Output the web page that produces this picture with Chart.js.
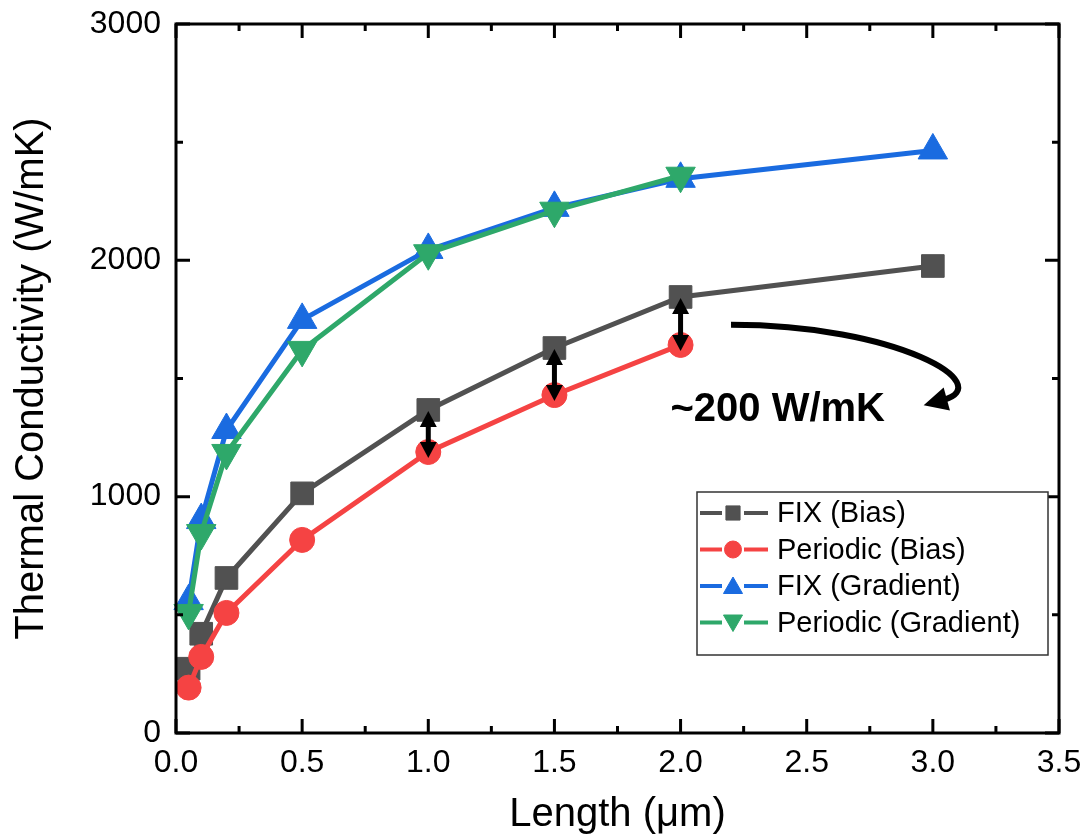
<!DOCTYPE html>
<html>
<head>
<meta charset="utf-8">
<script src="https://cdn.jsdelivr.net/npm/chart.js@4.4.1/dist/chart.umd.min.js"></script>
<style>
  body { margin: 0; background: #fff; }
  canvas { display: block; }
</style>
</head>
<body>
<canvas id="grafico" width="1087" height="839"></canvas>
<script>
// Datos (Length en um, conductividad en W/mK)
const xFixBias = [0.05, 0.1, 0.2, 0.5, 1.0, 1.5, 2.0, 3.0];
const fixBias = [272, 420, 656, 1014, 1367, 1629, 1845, 1976];
const xPerBias = [0.05, 0.1, 0.2, 0.5, 1.0, 1.5, 2.0];
const perBias = [192, 322, 508, 817, 1189, 1430, 1642];
const xFixGrad = [0.05, 0.1, 0.2, 0.5, 1.0, 1.5, 2.0, 3.0];
const fixGrad = [558, 901, 1282, 1748, 2044, 2222, 2345, 2465];
const xPerGrad = [0.05, 0.1, 0.2, 0.5, 1.0, 1.5, 2.0];
const perGrad = [508, 846, 1185, 1621, 2030, 2210, 2358];

const seriesNames = ['FIX (Bias)', 'Periodic (Bias)', 'FIX (Gradient)', 'Periodic (Gradient)'];
const xTicksLabeled = [0, 0.5, 1.0, 1.5, 2.0, 2.5, 3.0, 3.5];
const yTicksLabeled = [0, 1000, 2000, 3000];
const arrowLengths = [1.0, 1.5, 2.0];

const FUENTE = 'Arial, "Liberation Sans", sans-serif';

function puntos(xs, ys) {
    return xs.map((x, i) => ({ x: x, y: ys[i] }));
}

// Marco con ticks hacia adentro (estilo Origin)
const marcoPlugin = {
    id: 'marco',
    afterDraw(chart) {
        const ctx = chart.ctx;
        const a = chart.chartArea;
        const sx = chart.scales.x;
        const sy = chart.scales.y;
        ctx.save();
        ctx.strokeStyle = '#000';
        ctx.lineWidth = 3;
        ctx.strokeRect(a.left, a.top, a.right - a.left, a.bottom - a.top);
        sx.ticks.forEach(t => {
            const px = sx.getPixelForValue(t.value);
            const mayor = xTicksLabeled.some(v => Math.abs(v - t.value) < 1e-6);
            const len = mayor ? 14 : 7;
            ctx.beginPath();
            ctx.moveTo(px, a.bottom); ctx.lineTo(px, a.bottom - len);
            ctx.moveTo(px, a.top); ctx.lineTo(px, a.top + len);
            ctx.stroke();
        });
        sy.ticks.forEach(t => {
            const py = sy.getPixelForValue(t.value);
            const mayor = yTicksLabeled.includes(t.value);
            const len = mayor ? 14 : 7;
            ctx.beginPath();
            ctx.moveTo(a.left, py); ctx.lineTo(a.left + len, py);
            ctx.moveTo(a.right, py); ctx.lineTo(a.right - len, py);
            ctx.stroke();
        });
        ctx.restore();
    }
};

function punta(ctx, x, y, dx, dy, largo, ancho) {
    const n = Math.hypot(dx, dy);
    const ux = dx / n, uy = dy / n;
    ctx.beginPath();
    ctx.moveTo(x, y);
    ctx.lineTo(x - ux * largo - uy * ancho / 2, y - uy * largo + ux * ancho / 2);
    ctx.lineTo(x - ux * largo + uy * ancho / 2, y - uy * largo - ux * ancho / 2);
    ctx.closePath();
    ctx.fill();
}

// Flechas y texto de anotacion
const anotacionPlugin = {
    id: 'anotacion',
    afterDatasetsDraw(chart) {
        const ctx = chart.ctx;
        const sx = chart.scales.x;
        const sy = chart.scales.y;
        ctx.save();
        ctx.fillStyle = '#000';
        ctx.strokeStyle = '#000';

        // flechas dobles entre FIX (Bias) y Periodic (Bias)
        arrowLengths.forEach(xv => {
            const i = xFixBias.indexOf(xv);
            const j = xPerBias.indexOf(xv);
            const px = sx.getPixelForValue(xv);
            const y1 = sy.getPixelForValue(fixBias[i]) + 1;
            const y2 = sy.getPixelForValue(perBias[j]) + 6;
            ctx.lineWidth = 5;
            ctx.beginPath();
            ctx.moveTo(px, y1 + 12); ctx.lineTo(px, y2 - 12);
            ctx.stroke();
            punta(ctx, px, y1, 0, -1, 16, 17);
            punta(ctx, px, y2, 0, 1, 16, 17);
        });

        // flecha curva
        const p0 = [sx.getPixelForValue(2.2), sy.getPixelForValue(1727)];
        const c1 = [sx.getPixelForValue(2.86), sy.getPixelForValue(1727)];
        const c2 = [sx.getPixelForValue(3.26), sy.getPixelForValue(1473)];
        const p1 = [sx.getPixelForValue(3.04), sy.getPixelForValue(1409)];
        ctx.lineWidth = 6;
        ctx.lineCap = 'butt';
        ctx.beginPath();
        ctx.moveTo(p0[0], p0[1]);
        ctx.bezierCurveTo(c1[0], c1[1], c2[0], c2[1], p1[0], p1[1]);
        ctx.stroke();
        const dx = p1[0] - c2[0], dy = p1[1] - c2[1];
        const n = Math.hypot(dx, dy);
        punta(ctx, p1[0] + dx / n * 20, p1[1] + dy / n * 20, dx, dy, 24, 24);

        ctx.font = 'bold 40px ' + FUENTE;
        ctx.textAlign = 'left';
        ctx.textBaseline = 'middle';
        ctx.fillText('~200 W/mK', sx.getPixelForValue(1.96), sy.getPixelForValue(1367));
        ctx.restore();
    }
};

// Leyenda dibujada dentro del area del grafico
const leyendaPlugin = {
    id: 'leyendaInterna',
    afterDraw(chart) {
        const ctx = chart.ctx;
        const a = chart.chartArea;
        const x0 = a.right - 362, y0 = a.top + 468;
        const w = 351, h = 163;
        ctx.save();
        ctx.fillStyle = '#fff';
        ctx.fillRect(x0, y0, w, h);
        ctx.strokeStyle = '#333';
        ctx.lineWidth = 1.5;
        ctx.strokeRect(x0, y0, w, h);
        chart.data.datasets.forEach((ds, i) => {
            const cy = y0 + 21 + i * 36.5;
            const mx = x0 + 36;
            ctx.strokeStyle = ds.borderColor;
            ctx.lineWidth = 4;
            ctx.beginPath();
            ctx.moveTo(x0 + 3, cy); ctx.lineTo(mx - 11, cy);
            ctx.moveTo(mx + 11, cy); ctx.lineTo(x0 + 71, cy);
            ctx.stroke();
            ctx.fillStyle = ds.pointBackgroundColor;
            ctx.strokeStyle = ds.pointBackgroundColor;
            ctx.lineWidth = 1;
            Chart.helpers.drawPoint(ctx, {
                pointStyle: ds.pointStyle,
                radius: ds.legendRadius,
                rotation: ds.pointRotation || 0,
                borderWidth: 1
            }, mx, cy + (ds.pointStyle === 'triangle' ? (ds.pointRotation ? -2 : 2) : 0));
            ctx.fillStyle = '#000';
            ctx.font = '29px ' + FUENTE;
            ctx.textAlign = 'left';
            ctx.textBaseline = 'middle';
            ctx.fillText(seriesNames[i], x0 + 80, cy + 1);
        });
        ctx.restore();
    }
};

function crearGrafico() {
    const ctx = document.getElementById('grafico');
    const colores = ['#515151', '#f54343', '#1a6be0', '#2ea86a'];
    const estilos = ['rect', 'circle', 'triangle', 'triangle'];
    const radios = [16, 12.5, 17, 17];
    const radiosLeyenda = [10, 8.5, 11, 11];
    const rotaciones = [0, 0, 0, 180];
    const xs = [xFixBias, xPerBias, xFixGrad, xPerGrad];
    const ys = [fixBias, perBias, fixGrad, perGrad];

    const datasets = seriesNames.map((nombre, i) => ({
        label: nombre,
        data: puntos(xs[i], ys[i]),
        showLine: true,
        borderColor: colores[i],
        borderWidth: 5,
        borderCapStyle: 'round',
        pointStyle: estilos[i],
        pointRadius: radios[i],
        pointRotation: rotaciones[i],
        pointBackgroundColor: colores[i],
        pointBorderColor: colores[i],
        pointBorderWidth: 1,
        legendRadius: radiosLeyenda[i],
        tension: 0,
        clip: false,
        order: 4 - i
    }));

    new Chart(ctx, {
        type: 'scatter',
        data: { datasets: datasets },
        options: {
            responsive: false,
            animation: false,
            events: [],
            layout: { padding: { top: 24, right: 28, left: 0, bottom: 0 } },
            plugins: {
                legend: { display: false },
                tooltip: { enabled: false }
            },
            scales: {
                x: {
                    type: 'linear',
                    min: 0,
                    max: 3.5,
                    border: { display: false },
                    grid: { display: false, drawTicks: false },
                    ticks: {
                        stepSize: 0.25,
                        autoSkip: false,
                        maxRotation: 0,
                        padding: 11,
                        color: '#000',
                        font: { family: FUENTE, size: 32 },
                        callback: v => xTicksLabeled.some(t => Math.abs(t - v) < 1e-6) ? v.toFixed(1) : ''
                    },
                    title: {
                        display: true,
                        text: 'Length (μm)',
                        color: '#000',
                        font: { family: FUENTE, size: 40 },
                        padding: { top: 0, bottom: 0 }
                    },
                    afterFit(s) {
                        s.height = 106;
                        s.paddingLeft = 0;
                        s.paddingRight = 0;
                    }
                },
                y: {
                    type: 'linear',
                    min: 0,
                    max: 3000,
                    border: { display: false },
                    grid: { display: false, drawTicks: false },
                    ticks: {
                        stepSize: 500,
                        autoSkip: false,
                        padding: 15,
                        color: '#000',
                        font: { family: FUENTE, size: 32 },
                        callback: v => yTicksLabeled.includes(v) ? String(v) : ''
                    },
                    title: {
                        display: true,
                        text: 'Thermal Conductivity (W/mK)',
                        color: '#000',
                        font: { family: FUENTE, size: 40 },
                        padding: { top: 8, bottom: 0 }
                    },
                    afterFit(s) {
                        s.width = 176;
                        s.paddingTop = 0;
                        s.paddingBottom = 0;
                    }
                }
            }
        },
        plugins: [anotacionPlugin, marcoPlugin, leyendaPlugin]
    });
}

crearGrafico();
</script>
</body>
</html>
